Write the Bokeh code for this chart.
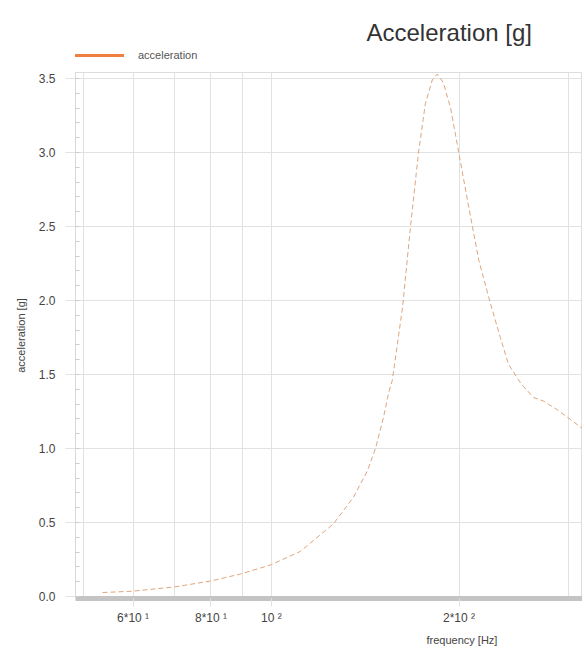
import math
from bokeh.plotting import figure
from bokeh.layouts import column
from bokeh.models import (Range1d, FixedTicker, SingleIntervalTicker, NumeralTickFormatter,
                          Title, Label, Legend, LegendItem, ColumnDataSource)
from bokeh.embed import file_html
from bokeh.resources import INLINE

# ---- data ----
freq = [53.6, 60, 70, 80, 89.2, 100, 111.3, 125.7, 135.4, 142.6, 146.9, 151.3, 154.1,
        156.3, 162.3, 167.1, 172.1, 176.6, 181.2, 184.6, 188.8, 193.9, 199.2, 206.7,
        215.2, 224.6, 233.0, 240.0, 251.3, 263.3, 273.3, 287.9, 315.6]
accel = [0.027, 0.036, 0.065, 0.105, 0.152, 0.215, 0.305, 0.49, 0.67, 0.85, 1.0, 1.21, 1.37,
         1.46, 1.95, 2.49, 2.99, 3.33, 3.49, 3.53, 3.47, 3.30, 3.03, 2.66,
         2.27, 1.98, 1.75, 1.57, 1.44, 1.345, 1.32, 1.26, 1.135]
x_major_ticks = [60, 80, 100, 200]
x_minor_ticks = [50, 70, 90, 300]
x_tick_labels = {60: "6*10 \u00b9", 80: "8*10 \u00b9", 100: "10 \u00b2", 200: "2*10 \u00b2"}
series_name = "acceleration"
title_text = "Acceleration [g]"
x_label = "frequency [Hz]"
y_label = "acceleration [g]"

FONT = "Liberation Sans"
GRID = "#e2e2e2"

# ---------------- header: title + legend ----------------
# header frame is aligned with the main plot's frame (page x 75..582)
head = figure(width=582, height=72, x_range=Range1d(75, 582), y_range=Range1d(0, 72),
              output_backend="svg", toolbar_location=None, title=None,
              x_axis_location=None, y_axis_location=None, min_border=0)
head.grid.visible = False
head.outline_line_color = None
head.add_layout(Label(x=366, y=40, text=title_text, text_font=FONT,
                      text_font_size="24px", text_color="#333333",
                      text_baseline="alphabetic", text_align="left"))
proxy = head.line(x=[math.nan], y=[math.nan], line_color="#f08040", line_width=3)
legend = Legend(items=[LegendItem(label=series_name, renderers=[proxy])],
                location=(-1, 10), orientation="horizontal",
                glyph_width=50, glyph_height=14, label_height=14, label_standoff=14,
                padding=0, margin=0, spacing=0,
                border_line_color=None, background_fill_alpha=0,
                label_text_font=FONT, label_text_font_size="11px",
                label_text_color="#555555")
head.add_layout(legend, "center")

# ---------------- main plot ----------------
p = figure(width=582, height=580, x_axis_type="log",
           x_range=Range1d(48.5, 315.6), y_range=Range1d(-0.0135, 3.5405),
           output_backend="svg", toolbar_location=None, title=None)
p.min_border_left = 75
p.min_border_right = 0
p.min_border_top = 0
p.min_border_bottom = 54
p.outline_line_color = "#dddddd"

# x axis
p.xaxis.ticker = FixedTicker(ticks=x_major_ticks, minor_ticks=x_minor_ticks)
p.xaxis.major_label_overrides = x_tick_labels
p.xaxis.axis_line_color = "#c4c4c4"
p.xaxis.axis_line_width = 5
p.xaxis.major_tick_line_color = GRID
p.xaxis.major_tick_out = 8
p.xaxis.major_tick_in = 0
p.xaxis.minor_tick_line_color = None
p.xaxis.major_label_text_font = FONT
p.xaxis.major_label_text_font_size = "12px"
p.xaxis.major_label_text_color = "#444444"
p.xaxis.major_label_standoff = 4
p.xgrid.grid_line_color = GRID
p.xgrid.minor_grid_line_color = GRID

# y axis
p.yaxis.ticker = SingleIntervalTicker(interval=0.5, num_minor_ticks=5)
p.yaxis.formatter = NumeralTickFormatter(format="0.0")
p.yaxis.axis_line_color = "#d8d8d8"
p.yaxis.major_tick_line_color = GRID
p.yaxis.major_tick_out = 10
p.yaxis.major_tick_in = 0
p.yaxis.minor_tick_line_color = "#cccccc"
p.yaxis.minor_tick_in = 4
p.yaxis.minor_tick_out = 0
p.yaxis.major_label_text_font = FONT
p.yaxis.major_label_text_font_size = "12px"
p.yaxis.major_label_text_color = "#444444"
p.yaxis.major_label_standoff = 10
p.yaxis.axis_label = y_label
p.yaxis.axis_label_text_font = FONT
p.yaxis.axis_label_text_font_size = "11px"
p.yaxis.axis_label_text_font_style = "normal"
p.yaxis.axis_label_text_color = "#444444"
p.yaxis.axis_label_standoff = 9
p.ygrid.grid_line_color = GRID

# curve
src = ColumnDataSource(dict(f=freq, a=accel))
p.line("f", "a", source=src, line_color="#dea57c", line_width=1, line_dash="5 3")

# x axis label, placed under the axis
p.add_layout(Title(text=x_label, align="left", offset=351, standoff=8,
                   text_font=FONT, text_font_size="11px", text_font_style="normal",
                   text_color="#444444"), "below")

layout = column(head, p, spacing=0)
open("out.html", "w").write(file_html(layout, INLINE))
